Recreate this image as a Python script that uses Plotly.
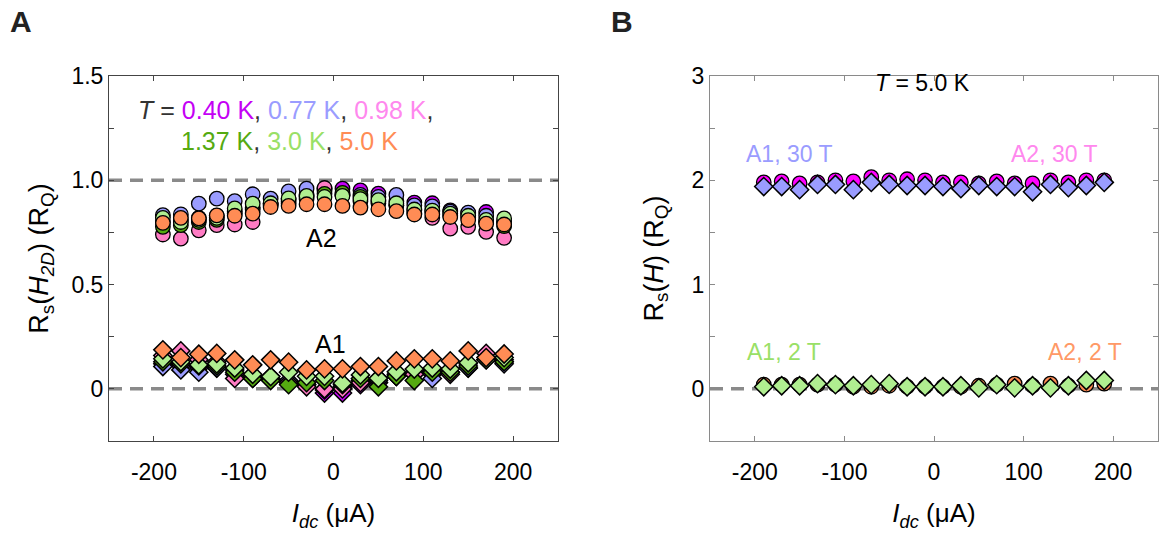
import plotly.graph_objects as go

# ---------------- data ----------------
idc = [-190, -170, -150, -130, -110, -90, -70, -50, -30, -10,
       10, 30, 50, 70, 90, 110, 130, 150, 170, 190]

temps = ["0.40 K", "0.77 K", "0.98 K", "1.37 K", "3.0 K", "5.0 K"]
temp_colors = ["#c400f5", "#9a9cff", "#ff7cc4", "#55aa11", "#b0ee90", "#ff8c55"]
temp_text_colors = ["#c400f5", "#9a9cff", "#ff88ee", "#55aa11", "#99e066", "#ff8c55"]

# Panel A, sample A2 (circles)
a2_040 = [0.80, 0.81, 0.82, 0.83, 0.85, 0.87, 0.89, 0.91, 0.93, 0.96, 0.96, 0.952, 0.936, 0.90, 0.893, 0.89, 0.856, 0.84, 0.848, 0.80]
a2_077 = [0.833, 0.837, 0.888, 0.912, 0.90, 0.933, 0.912, 0.947, 0.96, 0.95, 0.93, 0.93, 0.92, 0.93, 0.88, 0.875, 0.85, 0.845, 0.83, 0.80]
a2_098 = [0.74, 0.72, 0.76, 0.785, 0.788, 0.80, 0.88, 0.89, 0.92, 0.963, 0.93, 0.90, 0.89, 0.88, 0.84, 0.82, 0.768, 0.777, 0.753, 0.724]
a2_137 = [0.777, 0.785, 0.80, 0.81, 0.84, 0.86, 0.885, 0.90, 0.91, 0.935, 0.94, 0.92, 0.90, 0.88, 0.855, 0.85, 0.83, 0.82, 0.80, 0.78]
a2_300 = [0.82, 0.80, 0.81, 0.82, 0.865, 0.888, 0.89, 0.913, 0.925, 0.92, 0.925, 0.91, 0.905, 0.89, 0.86, 0.855, 0.84, 0.83, 0.81, 0.817]
a2_500 = [0.796, 0.82, 0.817, 0.832, 0.83, 0.84, 0.872, 0.877, 0.885, 0.885, 0.877, 0.869, 0.861, 0.852, 0.836, 0.836, 0.824, 0.809, 0.792, 0.788]

# Panel A, sample A1 (diamonds)
a1_040 = [0.12, 0.11, 0.10, 0.10, 0.07, 0.05, 0.05, 0.03, 0.02, -0.02, -0.02, 0.02, 0.03, 0.06, 0.07, 0.07, 0.08, 0.10, 0.15, 0.13]
a1_077 = [0.107, 0.091, 0.08, 0.10, 0.09, 0.06, 0.05, 0.04, 0.02, -0.005, 0.01, 0.04, 0.04, 0.06, 0.08, 0.05, 0.08, 0.10, 0.14, 0.12]
a1_098 = [0.16, 0.182, 0.14, 0.13, 0.05, 0.06, 0.06, 0.03, 0.01, 0.0, 0.0, 0.03, 0.05, 0.07, 0.07, 0.09, 0.07, 0.12, 0.17, 0.14]
a1_137 = [0.13, 0.12, 0.11, 0.11, 0.08, 0.05, 0.04, 0.02, 0.03, 0.04, 0.02, 0.05, 0.01, 0.06, 0.04, 0.08, 0.08, 0.11, 0.14, 0.13]
a1_300 = [0.144, 0.13, 0.115, 0.12, 0.10, 0.07, 0.059, 0.08, 0.06, 0.06, 0.027, 0.067, 0.051, 0.082, 0.095, 0.10, 0.095, 0.125, 0.14, 0.15]
a1_500 = [0.187, 0.15, 0.166, 0.17, 0.139, 0.115, 0.139, 0.128, 0.091, 0.096, 0.096, 0.107, 0.107, 0.134, 0.144, 0.144, 0.134, 0.182, 0.15, 0.167]

a2_series = [a2_040, a2_077, a2_098, a2_137, a2_300, a2_500]
a1_series = [a1_040, a1_077, a1_098, a1_137, a1_300, a1_500]

# Panel B, T = 5.0 K
b_a2_30T = [1.98, 1.99, 1.97, 1.98, 2.0, 1.99, 2.03, 2.0, 2.01, 2.0, 1.98, 1.98, 1.97, 1.99, 1.97, 1.97, 2.0, 1.98, 2.0, 2.0]
b_a1_30T = [1.94, 1.94, 1.91, 1.96, 1.96, 1.91, 1.98, 1.96, 1.95, 1.95, 1.94, 1.92, 1.95, 1.94, 1.94, 1.89, 1.96, 1.93, 1.95, 1.98]
b_a2_2T = [0.04, 0.04, 0.04, 0.04, 0.04, 0.02, 0.02, 0.03, 0.02, 0.02, 0.02, 0.02, 0.03, 0.04, 0.05, 0.03, 0.05, 0.03, 0.04, 0.05]
b_a1_2T = [0.02, 0.03, 0.03, 0.05, 0.04, 0.03, 0.04, 0.05, 0.02, 0.02, 0.02, 0.03, 0.01, 0.04, 0.01, 0.03, 0.01, 0.03, 0.08, 0.08]

xticks = [-200, -100, 0, 100, 200]
xticklabels = ["-200", "-100", "0", "100", "200"]
yticksA = [0, 0.5, 1.0, 1.5]
yticklabelsA = ["0", "0.5", "1.0", "1.5"]
yticksB = [0, 1, 2, 3]
yticklabelsB = ["0", "1", "2", "3"]

FONT = "Liberation Sans, Arial, Helvetica, sans-serif"

fig = go.Figure()

def circ(x, y, color, xa, ya):
    return go.Scatter(x=x, y=y, mode="markers", xaxis=xa, yaxis=ya, showlegend=False,
                      marker=dict(symbol="circle", size=14.5, color=color,
                                  line=dict(color="black", width=1.3)))

def diam(x, y, color, xa, ya):
    return go.Scatter(x=x, y=y, mode="markers", xaxis=xa, yaxis=ya, showlegend=False,
                      marker=dict(symbol="diamond", size=14, color=color,
                                  line=dict(color="black", width=1.5)))

for ser, col in zip(a2_series, temp_colors):
    fig.add_trace(circ(idc, ser, col, "x", "y"))
for ser, col in zip(a1_series, temp_colors):
    fig.add_trace(diam(idc, ser, col, "x", "y"))

fig.add_trace(circ(idc, b_a2_30T, "#ff00ff", "x2", "y2"))
fig.add_trace(diam(idc, b_a1_30T, "#9a9cff", "x2", "y2"))
fig.add_trace(circ(idc, b_a2_2T, "#ff8c55", "x2", "y2"))
fig.add_trace(diam(idc, b_a1_2T, "#b0ee90", "x2", "y2"))

# dashed reference lines
dash_line = dict(color="#8a8a8a", width=3.5, dash="13px,8px")
for (xr, yr, yv) in [("x", "y", 1.0), ("x", "y", 0.0), ("x2", "y2", 0.0)]:
    fig.add_shape(type="line", xref=xr, yref=yr, x0=-250, x1=250, y0=yv, y1=yv,
                  line=dash_line, layer="below")

axis_common = dict(showgrid=False, zeroline=False, ticks="inside", ticklen=5,
                   showline=True, mirror="ticks", automargin=False,
                   tickfont=dict(family=FONT, size=23, color="black"))

colA = "#444444"
colB = "#8a8a8a"

xtitle = "<i>I</i><sub><i>dc</i></sub> (μA)"

fig.update_layout(
    template="none",
    width=1161, height=541,
    margin=dict(l=0, r=0, t=0, b=0, autoexpand=False),
    paper_bgcolor="white", plot_bgcolor="white",
    font=dict(family=FONT, color="black"),
    xaxis=dict(domain=[109 / 1161, 558 / 1161], range=[-250, 250], tickvals=xticks,
               ticktext=xticklabels,
               linecolor=colA, tickcolor=colA, anchor="y", ticklabelstandoff=10,
               title=dict(text=xtitle, font=dict(family=FONT, size=26), standoff=20),
               **axis_common),
    yaxis=dict(domain=[100 / 541, 465 / 541], range=[-0.25, 1.5], tickvals=yticksA,
               ticktext=yticklabelsA, linecolor=colA, tickcolor=colA, anchor="x",
               minor=dict(dtick=0.25, tick0=0, ticks="inside", ticklen=5, tickcolor=colA, showgrid=False),
               title=dict(text="R<sub>s</sub>(<i>H</i><sub><i>2D</i></sub>) (R<sub>Q</sub>)",
                          font=dict(family=FONT, size=27), standoff=14),
               **axis_common),
    xaxis2=dict(domain=[710 / 1161, 1158 / 1161], range=[-250, 250], tickvals=xticks,
                ticktext=xticklabels,
                linecolor=colB, tickcolor=colB, anchor="y2", ticklabelstandoff=10,
                title=dict(text=xtitle, font=dict(family=FONT, size=26), standoff=20),
                **axis_common),
    yaxis2=dict(domain=[100 / 541, 465 / 541], range=[-0.5, 3], tickvals=yticksB,
                ticktext=yticklabelsB, linecolor=colB, tickcolor=colB, anchor="x2",
                minor=dict(dtick=0.5, tick0=0, ticks="inside", ticklen=5, tickcolor=colB, showgrid=False),
                title=dict(text="R<sub>s</sub>(<i>H</i>) (R<sub>Q</sub>)",
                           font=dict(family=FONT, size=27), standoff=20),
                **axis_common),
)

def span(txt, col):
    return f"<span style='color:{col}'>{txt}</span>"

line1 = ("<i>T</i> = " + span(temps[0], temp_text_colors[0]) + ", " +
         span(temps[1], temp_text_colors[1]) + ", " + span(temps[2], temp_text_colors[2]) + ",")
line2 = (span(temps[3], temp_text_colors[3]) + ", " + span(temps[4], temp_text_colors[4]) + ", " +
         span(temps[5], temp_text_colors[5]))

ann = [
    dict(text=line1, x=-54, y=1.335, xref="x", yref="y", font=dict(size=25, color="#333333")),
    dict(text=line2, x=-49, y=1.187, xref="x", yref="y", font=dict(size=25, color="#333333")),
    dict(text="A2", x=-13, y=0.722, xref="x", yref="y", font=dict(size=25)),
    dict(text="A1", x=-3, y=0.215, xref="x", yref="y", font=dict(size=25)),
    dict(text="<i>T</i> = 5.0 K", x=-13, y=2.93, xref="x2", yref="y2", font=dict(size=23)),
    dict(text="A1, 30 T", x=-161, y=2.25, xref="x2", yref="y2", font=dict(size=23, color="#9a9cff")),
    dict(text="A2, 30 T", x=135, y=2.25, xref="x2", yref="y2", font=dict(size=23, color="#ff88ee")),
    dict(text="A1, 2 T", x=-167, y=0.35, xref="x2", yref="y2", font=dict(size=23, color="#99e066")),
    dict(text="A2, 2 T", x=168, y=0.35, xref="x2", yref="y2", font=dict(size=23, color="#ff9966")),
    dict(text="<b>A</b>", x=21 / 1161, y=1 - 21 / 541, xref="paper", yref="paper", font=dict(size=30, color="#222222")),
    dict(text="<b>B</b>", x=622 / 1161, y=1 - 21 / 541, xref="paper", yref="paper", font=dict(size=30, color="#222222")),
]
for a in ann:
    a.setdefault("showarrow", False)
    a["font"].setdefault("family", FONT)
    a.setdefault("xanchor", "center")
    a.setdefault("yanchor", "middle")
fig.update_layout(annotations=ann)

fig.write_html("out.html")
